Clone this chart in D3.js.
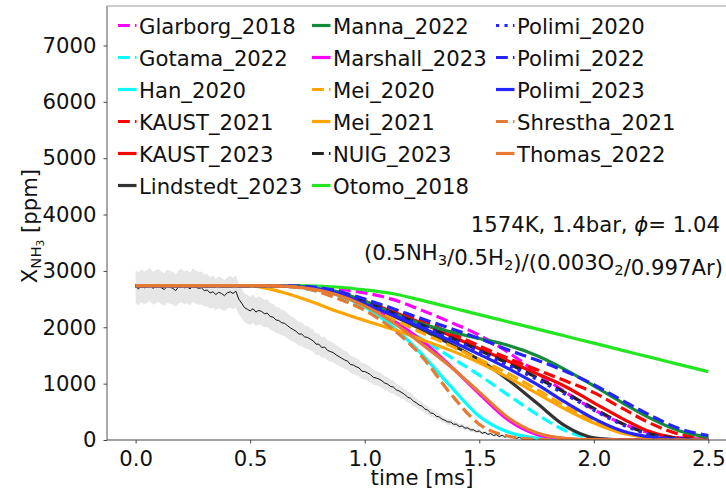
<!DOCTYPE html>
<html>
<head>
<meta charset="utf-8">
<script src="https://cdn.jsdelivr.net/npm/d3@7"></script>
<style>
  body { margin: 0; background: #fff; }
  text { font-family: "DejaVu Sans", sans-serif; }
</style>
</head>
<body>
<div id="chart"></div>
<script>
'use strict';

// model time grid [ms]
const tGrid = [0, 0.25, 0.5, 0.625, 0.75, 0.875, 1.0, 1.125, 1.25, 1.375, 1.5, 1.625, 1.75, 1.875, 2.0, 2.125, 2.25, 2.375, 2.5];

// NH3 mole fraction [ppm] for each mechanism
const glarborg2018 = [2740, 2740, 2740, 2738, 2725, 2685, 2610, 2490, 2300, 2090, 1860, 1560, 1200, 850, 540, 290, 120, 40, 10];
const gotama2022 = [2740, 2740, 2740, 2730, 2680, 2540, 2330, 2080, 1790, 1470, 1150, 800, 460, 170, 30, 0, 0, 0, 0];
const han2020 = [2740, 2740, 2740, 2735, 2700, 2580, 2360, 2000, 1520, 950, 420, 140, 35, 5, 0, 0, 0, 0, 0];
const kaust2021 = [2740, 2740, 2740, 2738, 2720, 2640, 2480, 2300, 2110, 1900, 1670, 1450, 1250, 1050, 840, 560, 290, 100, 25];
const kaust2023 = [2740, 2740, 2740, 2738, 2715, 2630, 2460, 2270, 2070, 1850, 1620, 1400, 1180, 950, 660, 380, 140, 30, 5];
const lindstedt2023 = [2740, 2740, 2740, 2737, 2710, 2610, 2420, 2200, 1960, 1700, 1420, 1070, 660, 250, 40, 5, 0, 0, 0];
const manna2022 = [2740, 2740, 2740, 2738, 2715, 2640, 2460, 2250, 2060, 1920, 1800, 1680, 1500, 1250, 960, 660, 380, 160, 50];
const marshall2023 = [2740, 2740, 2740, 2735, 2700, 2600, 2400, 2120, 1760, 1310, 820, 360, 100, 20, 0, 0, 0, 0, 0];
const mei2020 = [2740, 2740, 2740, 2735, 2700, 2590, 2380, 2140, 1900, 1670, 1430, 1180, 900, 600, 330, 140, 40, 10, 0];
const mei2021 = [2740, 2740, 2735, 2640, 2480, 2290, 2120, 1960, 1780, 1590, 1370, 1110, 830, 550, 300, 120, 35, 5, 0];
const nuig2023 = [2740, 2740, 2740, 2737, 2712, 2625, 2450, 2250, 2040, 1820, 1590, 1360, 1110, 840, 560, 290, 100, 25, 5];
const otomo2018 = [2740, 2740, 2740, 2739, 2735, 2715, 2665, 2595, 2477, 2350, 2224, 2097, 1971, 1844, 1718, 1591, 1465, 1338, 1212];
const polimi2020 = [2740, 2740, 2740, 2737, 2712, 2620, 2440, 2240, 2030, 1800, 1570, 1330, 1080, 810, 530, 270, 90, 20, 5];
const polimi2022 = [2740, 2740, 2740, 2738, 2722, 2650, 2500, 2330, 2150, 1980, 1800, 1600, 1420, 1220, 980, 700, 430, 200, 80];
const polimi2023 = [2740, 2740, 2740, 2736, 2708, 2610, 2410, 2210, 1990, 1760, 1520, 1270, 990, 670, 380, 160, 50, 10, 0];
const shrestha2021 = [2740, 2740, 2740, 2730, 2680, 2520, 2300, 1960, 1480, 820, 280, 70, 10, 0, 0, 0, 0, 0, 0];
const thomas2022 = [2740, 2740, 2740, 2734, 2690, 2580, 2380, 2080, 1700, 1300, 850, 400, 130, 30, 5, 0, 0, 0, 0];

const modelNames = ['Glarborg_2018', 'Gotama_2022', 'Han_2020', 'KAUST_2021', 'KAUST_2023', 'Lindstedt_2023',
    'Manna_2022', 'Marshall_2023', 'Mei_2020', 'Mei_2021', 'NUIG_2023', 'Otomo_2018',
    'Polimi_2020', 'Polimi_2022', 'Polimi_2023', 'Shrestha_2021', 'Thomas_2022'];
const modelValues = [glarborg2018, gotama2022, han2020, kaust2021, kaust2023, lindstedt2023,
    manna2022, marshall2023, mei2020, mei2021, nuig2023, otomo2018,
    polimi2020, polimi2022, polimi2023, shrestha2021, thomas2022];

// experiment, sampled every expStep ms from t = 0 (8 samples per 0.1 ms row)
const expStep = 0.0125;
const expValues = [
    2720, 2680, 2740, 2700, 2725, 2760, 2690, 2720,
    2745, 2700, 2670, 2730, 2710, 2690, 2650, 2720,
    2740, 2700, 2720, 2680, 2750, 2710, 2690, 2700,
    2650, 2660, 2610, 2630, 2580, 2620, 2600, 2560,
    2610, 2630, 2600, 2640, 2500, 2430, 2350, 2320,
    2290, 2330, 2270, 2300, 2280, 2240, 2250, 2190,
    2180, 2130, 2120, 2080, 2070, 2030, 1990, 1960,
    1930, 1880, 1880, 1830, 1820, 1790, 1760, 1700,
    1700, 1640, 1650, 1590, 1570, 1550, 1510, 1480,
    1450, 1420, 1400, 1340, 1330, 1300, 1280, 1220,
    1215, 1190, 1160, 1110, 1100, 1080, 1050, 1010,
    990, 950, 940, 890, 870, 840, 805, 760,
    740, 690, 660, 620, 600, 550, 530, 480,
    470, 420, 410, 370, 350, 320, 320, 280,
    280, 240, 250, 210, 215, 180, 180, 150,
    160, 120, 135, 100, 115, 80, 95, 60,
    85, 50, 70, 40, 60, 25, 50, 20,
    40, 10, 35, 5, 30, 0, 25, -10,
    20, 5, 15, -15, 20, 0, 10, -20,
    15, 5, 20, -5, 10, -25, 15, 0,
    20, -15, 10, 5, 15, -10, 10, 0,
    20, 5, -5, 15, 0, 10, -10, 15,
    5, 20, 0, 10, -5, 15, 5, 0,
    20, 5, 10, -5, 15, 0, 10, 5,
    20, 0, 10, 5, 15, 0, 10, 5,
    10];
const expUncertainty = 0.1;

const xTicks = [0, 0.5, 1.0, 1.5, 2.0, 2.5];
const yTicks = [0, 1000, 2000, 3000, 4000, 5000, 6000, 7000];

// line styles per mechanism
const lineStyles = {
    'Glarborg_2018': {color: '#ff00ff', dash: 'dashed'},
    'Gotama_2022': {color: '#00ffff', dash: 'dashed'},
    'Han_2020': {color: '#00ffff', dash: 'solid'},
    'KAUST_2021': {color: '#ff0000', dash: 'dashed'},
    'KAUST_2023': {color: '#ff0000', dash: 'solid'},
    'Lindstedt_2023': {color: '#333333', dash: 'solid'},
    'Manna_2022': {color: '#138b3a', dash: 'solid'},
    'Marshall_2023': {color: '#ff00ff', dash: 'solid'},
    'Mei_2020': {color: '#ffa500', dash: 'dashed'},
    'Mei_2021': {color: '#ffa500', dash: 'solid'},
    'NUIG_2023': {color: '#222222', dash: 'dashed'},
    'Otomo_2018': {color: '#22e622', dash: 'solid'},
    'Polimi_2020': {color: '#2424ff', dash: 'dotted'},
    'Polimi_2022': {color: '#2424ff', dash: 'dashed'},
    'Polimi_2023': {color: '#2424ff', dash: 'solid'},
    'Shrestha_2021': {color: '#e67a32', dash: 'dashed'},
    'Thomas_2022': {color: '#e67a32', dash: 'solid'},
};

const conf = {
    width: 726, height: 491,
    left: 107, right: 737, top: 6, bottom: 440,
    fontSize: 21.2, lineWidth: 3.2,
};

function dashArray(kind, lw) {
    if (kind === 'dashed') return [3.7 * lw, 1.6 * lw].join(',');
    if (kind === 'dotted') return [1 * lw, 1.65 * lw].join(',');
    return null;
}

const svg = d3.select('#chart').append('svg')
    .attr('width', conf.width)
    .attr('height', conf.height)
    .style('display', 'block');

const x = d3.scaleLinear().domain([-0.125, 2.625]).range([conf.left, conf.right]);
const y = d3.scaleLinear().domain([0, 7700]).range([conf.bottom, conf.top]);

svg.append('clipPath').attr('id', 'plotClip')
    .append('rect')
    .attr('x', conf.left).attr('y', conf.top)
    .attr('width', conf.right - conf.left).attr('height', conf.bottom - conf.top);

const plot = svg.append('g').attr('clip-path', 'url(#plotClip)');

// experimental uncertainty band and signal
const expData = expValues.map(function(v, i) { return {t: i * expStep, v: v}; });
plot.append('path')
    .datum(expData)
    .attr('fill', '#e6e6e6')
    .attr('d', d3.area()
        .x(function(d) { return x(d.t); })
        .y0(function(d) { return y(d.v - Math.abs(d.v) * expUncertainty - 20); })
        .y1(function(d) { return y(d.v + Math.abs(d.v) * expUncertainty + 20); }));
plot.append('path')
    .datum(expData)
    .attr('fill', 'none')
    .attr('stroke', '#111')
    .attr('stroke-width', 1)
    .attr('d', d3.line()
        .x(function(d) { return x(d.t); })
        .y(function(d) { return y(d.v); }));

// mechanisms
const modelLine = d3.line()
    .x(function(d) { return x(d.t); })
    .y(function(d) { return y(d.v); })
    .curve(d3.curveMonotoneX);

modelNames.forEach(function(name, k) {
    let style = lineStyles[name];
    let pts = tGrid.map(function(t, i) { return {t: t, v: modelValues[k][i]}; });
    plot.append('path')
        .datum(pts)
        .attr('fill', 'none')
        .attr('stroke', style.color)
        .attr('stroke-width', conf.lineWidth)
        .attr('stroke-dasharray', dashArray(style.dash, conf.lineWidth))
        .attr('d', modelLine);
});

// axes
const xAxis = svg.append('g')
    .attr('transform', 'translate(0,' + conf.bottom + ')')
    .call(d3.axisBottom(x).tickValues(xTicks).tickFormat(d3.format('.1f'))
        .tickSize(3.5).tickPadding(7.5));
const yAxis = svg.append('g')
    .attr('transform', 'translate(' + conf.left + ',0)')
    .call(d3.axisLeft(y).tickValues(yTicks).tickFormat(d3.format('d'))
        .tickSize(3.5).tickPadding(7));
[xAxis, yAxis].forEach(function(ax) {
    ax.select('.domain').remove();
    ax.selectAll('line').attr('stroke', '#444');
    ax.selectAll('text')
        .attr('fill', '#111')
        .style('font-size', conf.fontSize + 'px')
        .style('font-family', '"DejaVu Sans", sans-serif');
});

// spines
svg.append('line').attr('x1', conf.left).attr('x2', conf.right)
    .attr('y1', conf.bottom).attr('y2', conf.bottom).attr('stroke', '#444');
svg.append('line').attr('x1', conf.left).attr('x2', conf.left)
    .attr('y1', conf.top).attr('y2', conf.bottom).attr('stroke', '#555');
svg.append('line').attr('x1', conf.left).attr('x2', conf.right)
    .attr('y1', conf.top).attr('y2', conf.top).attr('stroke', '#999');

// axis titles
svg.append('text')
    .attr('x', (conf.left + conf.right) / 2)
    .attr('y', 485)
    .attr('text-anchor', 'middle')
    .attr('fill', '#111')
    .style('font-size', conf.fontSize + 'px')
    .text('time [ms]');

const yLabel = svg.append('text')
    .attr('transform', 'translate(37,' + ((conf.top + conf.bottom) / 2 + 3) + ') rotate(-90)')
    .attr('text-anchor', 'middle')
    .attr('fill', '#111')
    .style('font-size', conf.fontSize + 'px');
yLabel.append('tspan').text('X');
yLabel.append('tspan').attr('dy', 4).style('font-size', '14.8px').text('NH');
yLabel.append('tspan').attr('dy', 2.5).style('font-size', '10.6px').text('3');
yLabel.append('tspan').attr('dy', -6.5).text(' [ppm]');

// condition annotation
const cond1 = svg.append('text')
    .attr('x', 720).attr('y', 232)
    .attr('text-anchor', 'end')
    .attr('fill', '#111')
    .style('font-size', conf.fontSize + 'px');
cond1.append('tspan').text('1574K, 1.4bar, ');
cond1.append('tspan').style('font-style', 'italic').text('ϕ');
cond1.append('tspan').text('= 1.04');

const cond2 = svg.append('text')
    .attr('x', 723).attr('y', 260)
    .attr('text-anchor', 'end')
    .attr('fill', '#111')
    .style('font-size', conf.fontSize + 'px');
[['(0.5NH', '3'], ['/0.5H', '2'], [')/(0.003O', '2'], ['/0.997Ar)', null]].forEach(function(part) {
    cond2.append('tspan').text(part[0]);
    if (part[1]) {
        cond2.append('tspan').attr('dy', 5).style('font-size', '14.8px').text(part[1]);
        cond2.append('tspan').attr('dy', -5).text('');
    }
});

// legend, 3 columns x 6 rows
const legendCols = [118, 312, 496];
const legend = svg.append('g');
modelNames.forEach(function(name, i) {
    let style = lineStyles[name];
    let col = Math.floor(i / 6), row = i % 6;
    let base = 34 + row * 32;
    let hx = legendCols[col];
    legend.append('line')
        .attr('x1', hx).attr('x2', hx + 18.5)
        .attr('y1', base - 8.5).attr('y2', base - 8.5)
        .attr('stroke', style.color)
        .attr('stroke-width', conf.lineWidth)
        .attr('stroke-dasharray', dashArray(style.dash, conf.lineWidth));
    legend.append('text')
        .attr('x', hx + 21).attr('y', base)
        .attr('fill', '#111')
        .style('font-size', conf.fontSize + 'px')
        .text(name);
});
</script>
</body>
</html>
